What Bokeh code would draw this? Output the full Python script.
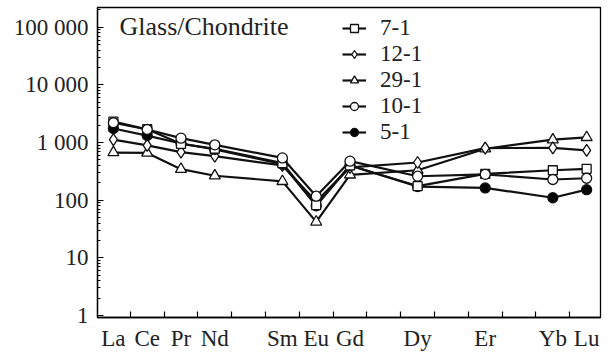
from bokeh.plotting import figure
from bokeh.models import (FixedTicker, Legend, LegendItem, Label, Range1d)
from bokeh.embed import file_html
from bokeh.resources import INLINE

# ---- data ----
ree_sequence = ["La", "Ce", "Pr", "Nd", "Pm", "Sm", "Eu", "Gd", "Tb", "Dy",
                "Ho", "Er", "Tm", "Yb", "Lu"]
elements = ["La", "Ce", "Pr", "Nd", "Sm", "Eu", "Gd", "Dy", "Er", "Yb", "Lu"]

s_7_1 = [2300, 1700, 950, 780, 440, 82, 400, 175, 285, 330, 350]
s_12_1 = [1120, 890, 680, 580, 400, 95, 370, 450, 800, 810, 730]
s_29_1 = [670, 660, 345, 265, 212, 42, 275, 330, 780, 1120, 1230]
s_10_1 = [2200, 1680, 1190, 910, 540, 117, 475, 260, 280, 228, 240]
s_5_1 = [1750, 1320, 960, 760, 420, 80, 400, 172, 163, 110, 152]

series_labels = ["7-1", "12-1", "29-1", "10-1", "5-1"]
y_ticks = [1, 10, 100, 1000, 10000, 100000]
y_tick_labels = ["1", "10", "100", "1 000", "10 000", "100 000"]
title_text = "Glass/Chondrite"

FONT = "Liberation Serif"

x = [ree_sequence.index(e) for e in elements]

p = figure(width=612, height=355, y_axis_type="log",
           x_range=Range1d(-0.47, 14.41), y_range=Range1d(0.92, 2.2e5),
           output_backend="svg", toolbar_location=None,
           min_border_left=97, min_border_right=12, min_border_top=7,
           min_border_bottom=38)
p.xgrid.visible = False
p.ygrid.visible = False
p.outline_line_color = "black"
p.outline_line_width = 1.3
p.outline_line_alpha = 1
p.background_fill_color = "white"
p.border_fill_color = "white"

# y axis
minor = [m * d for d in y_ticks[:-1] for m in range(2, 10)] + [2e5]
p.yaxis.ticker = FixedTicker(ticks=y_ticks, minor_ticks=minor)
p.yaxis.major_label_overrides = {t: l for t, l in zip(y_ticks, y_tick_labels)}
p.yaxis.major_tick_in = 6
p.yaxis.major_tick_out = 0
p.yaxis.minor_tick_in = 3
p.yaxis.minor_tick_out = 0
p.yaxis.major_label_standoff = 9
p.yaxis.axis_line_width = 1.3
p.yaxis.major_tick_line_width = 1.2
p.yaxis.minor_tick_line_width = 1
p.yaxis.major_label_text_font = FONT
p.yaxis.major_label_text_font_size = "23px"
p.yaxis.major_label_text_color = "#222222"

# x axis
p.xaxis.ticker = FixedTicker(ticks=x,
                             minor_ticks=[i + 0.5 for i in range(len(ree_sequence) - 1)])
p.xaxis.major_label_overrides = {xi: e for xi, e in zip(x, elements)}
p.xaxis.major_tick_in = 0
p.xaxis.major_tick_out = 0
p.xaxis.minor_tick_in = 6
p.xaxis.minor_tick_out = 0
p.xaxis.minor_tick_line_width = 1.2
p.xaxis.axis_line_width = 1.3
p.xaxis.major_label_standoff = 8
p.xaxis.major_label_text_font = FONT
p.xaxis.major_label_text_font_size = "23px"
p.xaxis.major_label_text_color = "#222222"

series = [
    (series_labels[0], s_7_1, "square", "white", 9),
    (series_labels[1], s_12_1, "diamond", "white", 12),
    (series_labels[2], s_29_1, "triangle", "white", 11),
    (series_labels[3], s_10_1, "circle", "white", 10),
    (series_labels[4], s_5_1, "circle", "black", 10),
]

draw_order = [2, 1, 4, 0, 3]
renderers = {}
for i in draw_order:
    label, vals, marker, fill, size = series[i]
    lr = p.line(x, vals, line_color="#111111", line_width=2.2)
    sr = p.scatter(x, vals, marker=marker, size=size, fill_color=fill,
                   line_color="#111111", line_width=1.3)
    renderers[i] = (lr, sr)

items = [LegendItem(label=series[i][0], renderers=list(renderers[i]))
         for i in range(len(series))]
legend = Legend(items=items, location=(245, 172), orientation="vertical",
                border_line_alpha=0, background_fill_alpha=0,
                padding=0, margin=0, spacing=0, glyph_width=24,
                glyph_height=20, label_height=20, label_standoff=14,
                label_text_font=FONT, label_text_font_size="23px",
                label_text_color="#222222")
p.add_layout(legend, "center")

p.add_layout(Label(x=22, y=277, x_units="screen", y_units="screen",
                   text=title_text, text_font=FONT, text_font_size="26px",
                   text_color="#222222"))

open("out.html", "w").write(file_html(p, INLINE))
